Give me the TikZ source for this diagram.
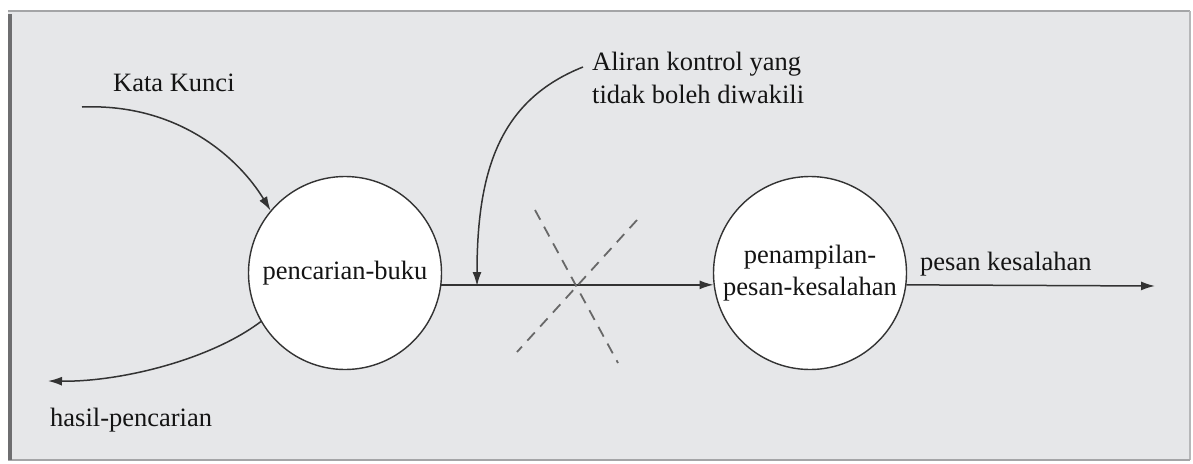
\documentclass[tikz,border=0pt]{standalone}
\usepackage{fontspec}
\setmainfont{Liberation Serif}
\usetikzlibrary{arrows.meta}
\definecolor{bggray}{HTML}{E6E7E9}
\definecolor{framegray}{HTML}{A4A5A7}
\definecolor{darkframe}{HTML}{6E6E70}
\definecolor{inkline}{HTML}{333333}
\definecolor{inktext}{HTML}{141414}
\definecolor{dashgray}{HTML}{686868}
\tikzset{
  proc/.style={circle, draw=inkline, line width=1.4pt, fill=white, minimum size=193pt, inner sep=0pt},
  txt/.style={font=\fontsize{26.5}{32}\selectfont, text=inktext, inner sep=0pt},
  flow/.style={draw=inkline, line width=1.5pt, -{Latex[length=14pt,width=9pt]}},
  cross/.style={draw=dashgray, line width=1.8pt, dash pattern=on 11pt off 8pt}
}
\begin{document}
\begin{tikzpicture}[x=1pt,y=-1pt]
\useasboundingbox (0,0) rectangle (1193,463);
% frame
\fill[bggray] (8,11) rectangle (1190,460);
\draw[framegray, line width=1.5pt] (8,11) -- (1190,11);
\draw[framegray!80, line width=1.2pt] (1190,11) -- (1190,460);
\draw[framegray, line width=1.8pt] (8,460) -- (1190,460);
\draw[darkframe, line width=4pt] (10,14) -- (10,460);
% processes
\node[proc] (c1) at (345,273) {};
\node[proc] (c2) at (810,273) {};
\node[txt] (t1) at (c1) {pencarian-buku};
\node[txt, align=center] (t2) at (c2) {penampilan-\\pesan-kesalahan};
% labels
\node[txt, anchor=base west] (kk) at (113,91) {Kata Kunci};
\node[txt, anchor=base west] (hp) at (50,426) {hasil-pencarian};
\node[txt, anchor=base west] (ak) at (592,70) {Aliran kontrol yang};
\node[txt, anchor=base west] (ak2) at (592,103) {tidak boleh diwakili};
\node[txt, anchor=base west] (pk) at (920,270) {pesan kesalahan};
% coordinates
\coordinate (kstart) at (82,107);
\coordinate (hend) at (48,381);
\coordinate (cstart) at (583,67);
\coordinate (cend) at (477,286);
\coordinate (pend) at (1155,286);
% flows
\draw[flow] (kstart) .. controls (180,103) and (240,160) .. (c1.140);
\draw[flow] (c1.210) .. controls (210,360) and (120,382) .. (hend);
\draw[flow] (c1.-7.7) -- (c2.187.7);
\draw[flow] (c2.-7.7) -- (pend);
\draw[flow] (cstart) .. controls (500,100) and (477,170) .. (cend);
% dashed cross
\coordinate (xa1) at (535,210);
\coordinate (xa2) at (618,363);
\coordinate (xb1) at (637,220);
\coordinate (xb2) at (517,352);
\draw[cross] (xa1) -- (xa2);
\draw[cross] (xb1) -- (xb2);
\end{tikzpicture}
\end{document}
